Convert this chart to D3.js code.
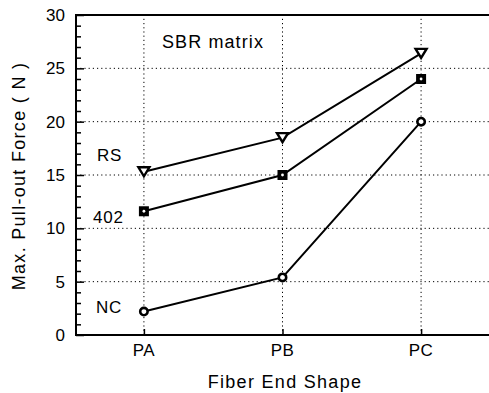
<!DOCTYPE html>
<html>
<head>
<meta charset="utf-8">
<script src="https://cdn.jsdelivr.net/npm/d3@7"></script>
<style>
  body { margin: 0; background: #fff; }
  text { font-family: "Liberation Sans", Arial, sans-serif; fill: #000; }
</style>
</head>
<body>
<script>
const shapes = ['PA', 'PB', 'PC']
const rs = [15.3, 18.5, 26.4]
const c402 = [11.6, 15.0, 24.0]
const nc = [2.2, 5.4, 20.0]
const yTicks = [0, 5, 10, 15, 20, 25, 30]

const W = 489, H = 393
const m = { left: 76, right: 0, top: 15, bottom: 58 }

const svg = d3.select('body').append('svg')
  .attr('width', W)
  .attr('height', H)

const x = d3.scalePoint()
  .domain(shapes)
  .range([m.left, W - m.right])
  .padding(0.49)

const y = d3.scaleLinear()
  .domain([0, 30])
  .range([H - m.bottom, m.top])

// dotted grid
svg.append('g')
  .selectAll('line')
  .data([5, 10, 15, 20, 25])
  .join('line')
    .attr('x1', m.left).attr('x2', W)
    .attr('y1', d => y(d)).attr('y2', d => y(d))
    .attr('stroke', '#000')
    .attr('stroke-width', 1)
    .attr('stroke-dasharray', '1.2,3')

svg.append('g')
  .selectAll('line')
  .data(shapes)
  .join('line')
    .attr('x1', d => x(d)).attr('x2', d => x(d))
    .attr('y1', y(0)).attr('y2', y(30))
    .attr('stroke', '#000')
    .attr('stroke-width', 1)
    .attr('stroke-dasharray', '1.2,3')

// frame: left, bottom, top
svg.append('path')
  .attr('d', `M${W},${y(30)}H${m.left}V${y(0)}H${W}`)
  .attr('fill', 'none')
  .attr('stroke', '#000')
  .attr('stroke-width', 2)

// y axis, ticks pointing inwards
const yAxis = svg.append('g')
  .attr('transform', `translate(${m.left},0)`)
  .call(d3.axisRight(y).tickValues(d3.range(0, 31, 1)).tickSize(5).tickFormat(''))
yAxis.select('.domain').remove()
yAxis.selectAll('.tick line')
  .attr('stroke-width', 1.5)
  .attr('x2', d => d % 5 === 0 ? 8 : 5)

svg.append('g')
  .selectAll('text')
  .data(yTicks)
  .join('text')
    .attr('x', m.left - 11)
    .attr('y', d => y(d))
    .attr('dy', '0.36em')
    .attr('text-anchor', 'end')
    .style('font-size', '17px')
    .text(d => d)

// x axis
const xAxis = svg.append('g')
  .attr('transform', `translate(0,${y(0)})`)
  .call(d3.axisTop(x).tickSize(6).tickFormat(''))
xAxis.select('.domain').remove()
xAxis.selectAll('.tick line').attr('stroke-width', 1.5)

svg.append('g')
  .selectAll('text')
  .data(shapes)
  .join('text')
    .attr('x', d => x(d))
    .attr('y', 356)
    .attr('text-anchor', 'middle')
    .style('font-size', '17px')
    .style('letter-spacing', '0.5px')
    .text(d => d)

// axis titles
svg.append('text')
  .attr('x', 285)
  .attr('y', 388)
  .attr('text-anchor', 'middle')
  .style('font-size', '18px')
  .style('letter-spacing', '1.3px')
  .text('Fiber End Shape')

svg.append('text')
  .attr('transform', `translate(25,176) rotate(-90)`)
  .attr('text-anchor', 'middle')
  .style('font-size', '18px')
  .style('letter-spacing', '1.3px')
  .text('Max. Pull-out Force ( N )')

svg.append('text')
  .attr('x', 162)
  .attr('y', 48)
  .style('font-size', '18px')
  .style('letter-spacing', '1.1px')
  .text('SBR matrix')

// series
const line = d3.line()
  .x((d, i) => x(shapes[i]))
  .y(d => y(d))

const series = [
  { name: 'RS', values: rs, marker: 'tri', lx: 97, ly: 161 },
  { name: '402', values: c402, marker: 'sq', lx: 93, ly: 223 },
  { name: 'NC', values: nc, marker: 'circ', lx: 96, ly: 313 }
]

series.forEach(s => {
  svg.append('path')
    .datum(s.values)
    .attr('d', line)
    .attr('fill', 'none')
    .attr('stroke', '#000')
    .attr('stroke-width', 2)

  const g = svg.append('g')
    .selectAll('g')
    .data(s.values)
    .join('g')
      .attr('transform', (d, i) => `translate(${x(shapes[i])},${y(d)})`)

  if (s.marker === 'tri') {
    g.append('path')
      .attr('d', 'M-5.5,-4.5L5.5,-4.5L0,4.5Z')
      .attr('fill', '#fff')
      .attr('stroke', '#000')
      .attr('stroke-width', 2.4)
  } else if (s.marker === 'sq') {
    g.append('rect')
      .attr('x', -5).attr('y', -5)
      .attr('width', 10).attr('height', 10)
      .attr('fill', '#000')
    g.append('circle')
      .attr('r', 1.4)
      .attr('fill', '#fff')
  } else {
    g.append('circle')
      .attr('r', 3.7)
      .attr('fill', '#fff')
      .attr('stroke', '#000')
      .attr('stroke-width', 2.6)
  }

  svg.append('text')
    .attr('x', s.lx)
    .attr('y', s.ly)
    .style('font-size', '17px')
    .style('letter-spacing', '0.8px')
    .text(s.name)
})
</script>
</body>
</html>
